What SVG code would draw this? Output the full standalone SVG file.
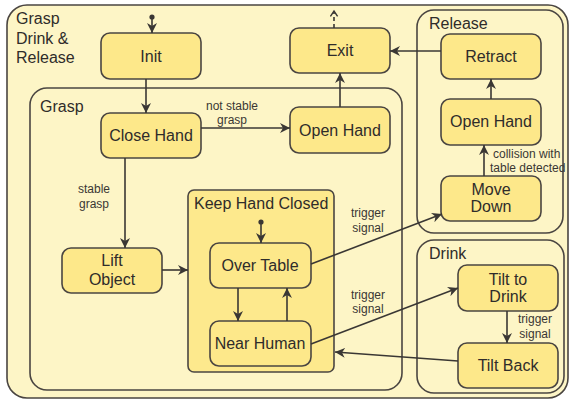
<svg xmlns="http://www.w3.org/2000/svg" width="569" height="399" viewBox="0 0 569 399">
  <style>
    .frame { fill: #fdf5c6; stroke: #4a4541; stroke-width: 1.6; }
    .sub { fill: #fde98d; stroke: #4a4541; stroke-width: 1.6; }
    .state { fill: #fde88a; stroke: #4a4541; stroke-width: 1.6; }
    .name { font-family: "Liberation Sans", Arial, sans-serif; font-size: 16px; fill: #2f2c2a; text-anchor: middle; }
    .title { font-family: "Liberation Sans", Arial, sans-serif; font-size: 16px; fill: #2f2c2a; }
    .lbl { font-family: "Liberation Sans", Arial, sans-serif; font-size: 12px; fill: #3a3734; text-anchor: middle; }
    .edge { fill: none; stroke: #3a3734; stroke-width: 1.6; }
    .dot { fill: #3a3734; }
  </style>
  <defs>
    <marker id="arrow" viewBox="0 0 10 10" refX="10" refY="5" markerWidth="10" markerHeight="10" markerUnits="userSpaceOnUse" orient="auto">
      <path d="M0,0 L10,5 L0,10 L3,5 Z" fill="#3a3734"/>
    </marker>
    <marker id="open" viewBox="0 0 10 10" refX="8" refY="5" markerWidth="9" markerHeight="9" markerUnits="userSpaceOnUse" orient="auto">
      <path d="M2,1 L8,5 L2,9" fill="none" stroke="#3a3734" stroke-width="1.6"/>
    </marker>
  </defs>

  <rect x="0" y="0" width="569" height="399" fill="#ffffff"/>

  <!-- Composite states -->
  <g id="grasp-drink-release">
    <rect class="frame" x="7" y="5" width="561" height="393" rx="20"/>
    <text class="title" x="16" y="24">Grasp</text>
    <text class="title" x="16" y="44">Drink &amp;</text>
    <text class="title" x="16" y="63">Release</text>
  </g>

  <g id="grasp">
    <rect class="frame" x="30" y="88" width="372" height="302" rx="17"/>
    <text class="title" x="40" y="112">Grasp</text>
  </g>

  <g id="release">
    <rect class="frame" x="417" y="10" width="146" height="223" rx="17"/>
    <text class="title" x="429" y="29">Release</text>
  </g>

  <g id="drink">
    <rect class="frame" x="417" y="240" width="147" height="153" rx="17"/>
    <text class="title" x="429" y="259">Drink</text>
  </g>

  <g id="keep-hand-closed">
    <rect class="sub" x="188" y="190" width="146" height="182" rx="6"/>
    <text class="title" x="194" y="209">Keep Hand Closed</text>
  </g>

  <!-- Simple states -->
  <g id="init">
    <rect class="state" x="101" y="33" width="100" height="46" rx="9"/>
    <text class="name" x="151" y="62">Init</text>
  </g>
  <g id="close-hand">
    <rect class="state" x="101" y="113" width="100" height="45" rx="9"/>
    <text class="name" x="151" y="141">Close Hand</text>
  </g>
  <g id="open-hand-grasp">
    <rect class="state" x="290" y="107" width="100" height="46" rx="9"/>
    <text class="name" x="340" y="136">Open Hand</text>
  </g>
  <g id="exit">
    <rect class="state" x="290" y="28" width="100" height="45" rx="9"/>
    <text class="name" x="340" y="56">Exit</text>
  </g>
  <g id="lift-object">
    <rect class="state" x="62" y="248" width="100" height="45" rx="9"/>
    <text class="name" x="112" y="266">Lift</text>
    <text class="name" x="112" y="285">Object</text>
  </g>
  <g id="over-table">
    <rect class="state" x="210" y="243" width="101" height="45" rx="9"/>
    <text class="name" x="260" y="271">Over Table</text>
  </g>
  <g id="near-human">
    <rect class="state" x="210" y="321" width="101" height="45" rx="9"/>
    <text class="name" x="260" y="349">Near Human</text>
  </g>
  <g id="retract">
    <rect class="state" x="441" y="34" width="100" height="45" rx="9"/>
    <text class="name" x="491" y="62">Retract</text>
  </g>
  <g id="open-hand-release">
    <rect class="state" x="441" y="99" width="100" height="46" rx="9"/>
    <text class="name" x="491" y="127">Open Hand</text>
  </g>
  <g id="move-down">
    <rect class="state" x="441" y="176" width="100" height="45" rx="9"/>
    <text class="name" x="491" y="195">Move</text>
    <text class="name" x="491" y="212">Down</text>
  </g>
  <g id="tilt-to-drink">
    <rect class="state" x="458" y="265" width="100" height="46" rx="9"/>
    <text class="name" x="508" y="285">Tilt to</text>
    <text class="name" x="508" y="302">Drink</text>
  </g>
  <g id="tilt-back">
    <rect class="state" x="458" y="343" width="100" height="45" rx="9"/>
    <text class="name" x="508" y="371">Tilt Back</text>
  </g>

  <!-- Transitions -->
  <g id="connectors">
    <circle class="dot" cx="152" cy="17" r="2.6"/>
    <line class="edge" x1="152" y1="17" x2="152" y2="33" marker-end="url(#arrow)"/>
    <line class="edge" x1="146" y1="79" x2="146" y2="113" marker-end="url(#arrow)"/>
    <line class="edge" x1="201" y1="128" x2="290" y2="128" marker-end="url(#arrow)"/>
    <line class="edge" x1="125" y1="158" x2="125" y2="248" marker-end="url(#arrow)"/>
    <line class="edge" x1="162" y1="270" x2="188" y2="270" marker-end="url(#arrow)"/>
    <circle class="dot" cx="261" cy="222" r="2.6"/>
    <line class="edge" x1="261" y1="222" x2="261" y2="243" marker-end="url(#arrow)"/>
    <line class="edge" x1="238" y1="288" x2="238" y2="321" marker-end="url(#arrow)"/>
    <line class="edge" x1="287" y1="321" x2="287" y2="288" marker-end="url(#arrow)"/>
    <line class="edge" x1="340" y1="107" x2="340" y2="73" marker-end="url(#arrow)"/>
    <line class="edge" x1="334" y1="28" x2="334" y2="11" stroke-dasharray="4,3" marker-end="url(#open)"/>
    <line class="edge" x1="441" y1="51" x2="390" y2="51" marker-end="url(#arrow)"/>
    <line class="edge" x1="491" y1="99" x2="491" y2="79" marker-end="url(#arrow)"/>
    <line class="edge" x1="484" y1="176" x2="484" y2="145" marker-end="url(#arrow)"/>
    <line class="edge" x1="311" y1="264" x2="442" y2="214" marker-end="url(#arrow)"/>
    <line class="edge" x1="311" y1="344" x2="458" y2="288" marker-end="url(#arrow)"/>
    <line class="edge" x1="507" y1="311" x2="507" y2="343" marker-end="url(#arrow)"/>
    <line class="edge" x1="458" y1="361" x2="335" y2="352" marker-end="url(#arrow)"/>

    <text class="lbl" x="232" y="110">not stable</text>
    <text class="lbl" x="232" y="124">grasp</text>
    <text class="lbl" x="94" y="193">stable</text>
    <text class="lbl" x="94" y="208">grasp</text>
    <text class="lbl" x="368" y="217">trigger</text>
    <text class="lbl" x="368" y="232">signal</text>
    <text class="lbl" x="368" y="299">trigger</text>
    <text class="lbl" x="368" y="313">signal</text>
    <text class="lbl" x="535" y="323">trigger</text>
    <text class="lbl" x="535" y="338">signal</text>
    <text class="lbl" x="493" y="158" style="text-anchor:start">collision with</text>
    <text class="lbl" x="490" y="172" style="text-anchor:start">table detected</text>
  </g>
</svg>
